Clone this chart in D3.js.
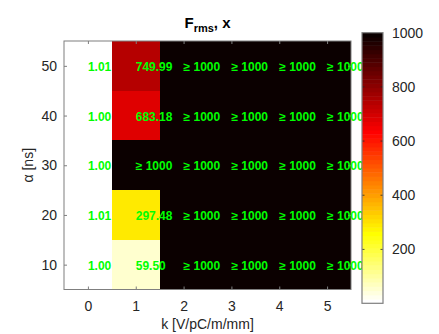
<!DOCTYPE html>
<html>
<head>
<meta charset="utf-8">
<script src="https://cdn.jsdelivr.net/npm/d3@7"></script>
<style>
  html, body { margin: 0; padding: 0; background: #fff; }
  svg { display: block; font-family: "Liberation Sans", Arial, Helvetica, sans-serif; }
</style>
</head>
<body>
<svg id="chart" width="439" height="334"></svg>
<script>
// k values (columns) and alpha values (rows)
const kValues = [0, 1, 2, 3, 4, 5];
const alphaValues = [10, 20, 30, 40, 50];

// F_rms per alpha row, one value per k; 1000 stands for the clipped "≥ 1000" cells
const frmsAlpha10 = [1.00, 59.50, 1000, 1000, 1000, 1000];
const frmsAlpha20 = [1.01, 297.48, 1000, 1000, 1000, 1000];
const frmsAlpha30 = [1.00, 1000, 1000, 1000, 1000, 1000];
const frmsAlpha40 = [1.00, 683.18, 1000, 1000, 1000, 1000];
const frmsAlpha50 = [1.01, 749.99, 1000, 1000, 1000, 1000];
const frmsRows = [frmsAlpha10, frmsAlpha20, frmsAlpha30, frmsAlpha40, frmsAlpha50];

const xTicks = [0, 1, 2, 3, 4, 5];
const yTicks = [10, 20, 30, 40, 50];
const colorTicks = [200, 400, 600, 800, 1000];
const colorLimits = [1, 1000];

// flipped "hot" colormap with 64 discrete levels
const nLevels = 64;
function hotColor(i) { // i: 1..64 in the original hot ordering
  const m = 24;
  const r = Math.min(1, i / m);
  const g = Math.max(0, Math.min(1, (i - m) / m));
  const b = Math.max(0, Math.min(1, (i - 2 * m) / 16));
  return d3.rgb(Math.round(r * 255), Math.round(g * 255), Math.round(b * 255)).toString();
}
const palette = d3.range(1, nLevels + 1).map(i => hotColor(nLevels + 1 - i)); // low -> white, high -> black
function colorOf(v) {
  let idx = Math.floor((v - colorLimits[0]) / (colorLimits[1] - colorLimits[0]) * nLevels);
  idx = Math.max(0, Math.min(nLevels - 1, idx));
  return palette[idx];
}

const svg = d3.select("#chart");
const axisGrey = "#7f7f7f";
const textDark = "#262626";
const intFmt = d3.format("d");

const plot = { left: 64, right: 351, top: 41, bottom: 289.5 };
const x = d3.scaleLinear().domain([-0.5, 5.5]).range([plot.left, plot.right]);
const y = d3.scaleLinear().domain([5, 55]).range([plot.bottom, plot.top]);

// flatten the grid
const cells = [];
frmsRows.forEach((row, ri) => {
  row.forEach((v, ci) => cells.push({ k: kValues[ci], alpha: alphaValues[ri], v }));
});

// heatmap cells
svg.append("g").selectAll("rect").data(cells).join("rect")
  .attr("x", d => x(d.k - 0.5))
  .attr("y", d => y(d.alpha + 5))
  .attr("width", d => x(d.k + 0.5) - x(d.k - 0.5))
  .attr("height", d => y(d.alpha - 5) - y(d.alpha + 5))
  .attr("fill", d => colorOf(d.v))
  .attr("shape-rendering", "crispEdges");

// axes (ticks inward, box around plot)
const tickLen = 3;
const xAxisBottom = d3.axisBottom(x).tickValues(xTicks).tickFormat(intFmt).tickSizeInner(-tickLen).tickSizeOuter(0).tickPadding(12);
const xAxisTop = d3.axisTop(x).tickValues(xTicks).tickSizeInner(-tickLen).tickSizeOuter(0).tickFormat("");
const yAxisLeft = d3.axisLeft(y).tickValues(yTicks).tickFormat(intFmt).tickSizeInner(-tickLen).tickSizeOuter(0).tickPadding(7);
const yAxisRight = d3.axisRight(y).tickValues(yTicks).tickSizeInner(-tickLen).tickSizeOuter(0).tickFormat("");

function styleAxis(g) {
  g.select(".domain").remove();
  g.selectAll(".tick line").attr("stroke", axisGrey);
  g.selectAll(".tick text").attr("fill", textDark).style("font-size", "14px")
    .style("font-family", "'Liberation Sans', Arial, Helvetica, sans-serif");
}
svg.append("g").attr("transform", `translate(0,${plot.bottom})`).call(xAxisBottom).call(styleAxis);
svg.append("g").attr("transform", `translate(0,${plot.top})`).call(xAxisTop).call(styleAxis);
svg.append("g").attr("transform", `translate(${plot.left},0)`).call(yAxisLeft).call(styleAxis);
svg.append("g").attr("transform", `translate(${plot.right},0)`).call(yAxisRight).call(styleAxis);

svg.append("rect")
  .attr("x", plot.left).attr("y", plot.top)
  .attr("width", plot.right - plot.left).attr("height", plot.bottom - plot.top)
  .attr("fill", "none").attr("stroke", axisGrey).attr("stroke-width", 1);

// value labels
svg.append("g").selectAll("text").data(cells).join("text")
  .attr("x", d => x(d.k))
  .attr("y", d => y(d.alpha) + 5)
  .attr("fill", "#00ff00")
  .style("font-size", "12px")
  .style("font-weight", "bold")
  .text(d => d.v >= 1000 ? "≥ 1000" : d.v.toFixed(2));

// axis labels
svg.append("text")
  .attr("x", (plot.left + plot.right) / 2).attr("y", 329)
  .attr("text-anchor", "middle").attr("fill", textDark).style("font-size", "14px")
  .text("k [V/pC/m/mm]");
svg.append("text")
  .attr("transform", `translate(33,${(plot.top + plot.bottom) / 2}) rotate(-90)`)
  .attr("text-anchor", "middle").attr("fill", textDark).style("font-size", "14px")
  .text("α [ns]");

// title
const title = svg.append("text")
  .attr("x", (plot.left + plot.right) / 2).attr("y", 28)
  .attr("text-anchor", "middle").attr("fill", "#000")
  .style("font-size", "15px").style("font-weight", "bold");
title.append("tspan").text("F");
title.append("tspan").attr("dy", 4).style("font-size", "11px").text("rms");
title.append("tspan").attr("dy", -4).text(", x");

// colorbar
const cb = { left: 362, right: 383, top: 32.7, bottom: 303.3 };
const cy = d3.scaleLinear().domain(colorLimits).range([cb.bottom, cb.top]);
const bandH = (cb.bottom - cb.top) / nLevels;
svg.append("g").selectAll("rect").data(palette).join("rect")
  .attr("x", cb.left)
  .attr("y", (d, i) => cb.bottom - (i + 1) * bandH)
  .attr("width", cb.right - cb.left)
  .attr("height", bandH + 0.5)
  .attr("fill", d => d);

const cbAxis = d3.axisRight(cy).tickValues(colorTicks).tickFormat(intFmt).tickSizeInner(0).tickSizeOuter(0).tickPadding(9);
svg.append("g").attr("transform", `translate(${cb.right},0)`).call(cbAxis).call(styleAxis);
// inward ticks on both sides of the colorbar
svg.append("g").selectAll("line").data(colorTicks.filter(t => t < 1000)).join("line")
  .attr("x1", cb.left).attr("x2", cb.left + 2.5)
  .attr("y1", d => cy(d)).attr("y2", d => cy(d))
  .attr("stroke", textDark).attr("stroke-width", 0.8);
svg.append("g").selectAll("line").data(colorTicks.filter(t => t < 1000)).join("line")
  .attr("x1", cb.right - 2.5).attr("x2", cb.right)
  .attr("y1", d => cy(d)).attr("y2", d => cy(d))
  .attr("stroke", textDark).attr("stroke-width", 0.8);
svg.append("rect")
  .attr("x", cb.left).attr("y", cb.top)
  .attr("width", cb.right - cb.left).attr("height", cb.bottom - cb.top)
  .attr("fill", "none").attr("stroke", axisGrey).attr("stroke-width", 1.2);
</script>
</body>
</html>
